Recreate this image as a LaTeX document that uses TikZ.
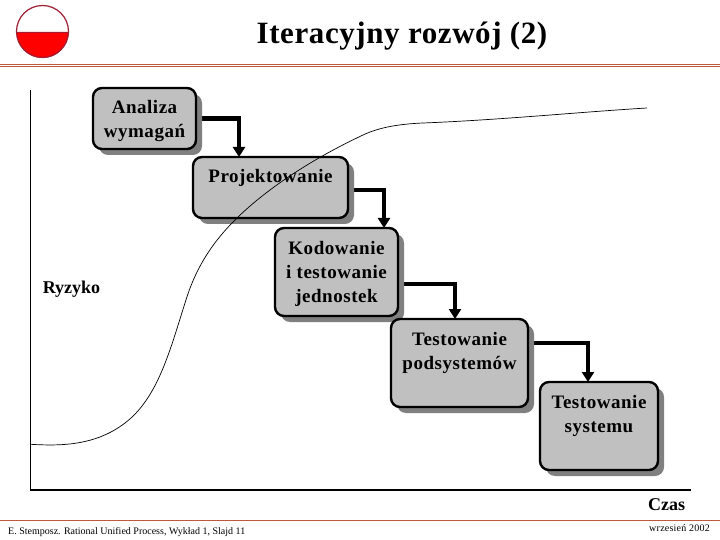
\documentclass[tikz,border=0pt]{standalone}
\usepackage{fontspec}
\setmainfont{Liberation Serif}
\usetikzlibrary{shadows,arrows.meta,backgrounds}
\definecolor{boxgray}{RGB}{192,192,192}
\definecolor{shadowgray}{RGB}{128,128,128}
\definecolor{rulecolor}{RGB}{190,90,60}
\definecolor{logored}{RGB}{255,0,0}
\definecolor{logoedge}{RGB}{160,30,50}
\newcommand{\boxfont}{\fontsize{19}{24}\selectfont\bfseries\addfontfeatures{LetterSpace=2.8}}
% width, height, text
\newcommand{\boxtext}[3]{\parbox[c][#2pt][t]{#1pt}{\centering\boxfont\rule{0pt}{26pt}#3}}
\tikzset{
  stage/.style={draw=black,line width=2.4pt,fill=boxgray,rounded corners=9pt,inner sep=0pt,outer sep=0pt,
    drop shadow={shadow xshift=6pt,shadow yshift=-6pt,fill=shadowgray,opacity=1}},
  flow/.style={draw=black,line width=4.4pt,-{Triangle[width=12pt,length=10pt]}},
  axisline/.style={draw=black,line width=1.2pt},
  headrule/.style={draw=rulecolor,line width=1pt},
  caption/.style={inner sep=0pt,anchor=center},
}
\begin{document}
\begin{tikzpicture}[x=1pt,y=-1pt]
\path[use as bounding box] (0,0) rectangle (720,540);
% logo
\path[fill=white] (42.5,31.5) circle (26);
\path[fill=logored] (16.5,32) arc[start angle=180,end angle=360,x radius=26,y radius=-26] -- cycle;
\draw[logoedge,line width=1.2pt] (42.5,31.5) circle (26);
\draw[logoedge,line width=.8pt] (16.5,32) -- (68.5,32);
% title
\node[caption] (title) at (402,36) {\fontsize{31}{34}\selectfont\bfseries\addfontfeatures{LetterSpace=1.9}Iteracyjny rozwój (2)};
% rules
\draw[headrule] (0,64.6) -- (720,64.6);
\draw[headrule] (0,66.6) -- (720,66.6);
\draw[headrule] (0,520.5) -- (720,520.5);
% axes
\coordinate (axtop) at (30.5,90);
\coordinate (axorigin) at (30.5,490);
\coordinate (axright) at (691,490);
\draw[axisline] (axtop) -- (axorigin) -- (axright);
% boxes
\node[stage] (a) at (144.5,118.5) {\boxtext{103}{61}{Analiza\\wymagań}};
\node[stage] (b) at (270.5,187.5) {\boxtext{155}{61}{Projektowanie}};
\node[stage] (c) at (336.5,272) {\boxtext{123}{88}{Kodowanie\\i testowanie\\jednostek}};
\node[stage] (d) at (459.5,363) {\boxtext{137}{88}{Testowanie\\podsystemów}};
\node[stage] (e) at (599,426) {\boxtext{118}{88}{Testowanie\\systemu}};
% connectors (behind the shadows)
\begin{scope}[on background layer]
\draw[flow] (a.east) -| ([xshift=-31.5pt]b.north);
\draw[flow] ([yshift=-2.5pt]b.east) -| ([xshift=47.5pt]c.north);
\draw[flow] ([yshift=-12pt]c.east) -| ([xshift=-4.5pt]d.north);
\draw[flow] ([yshift=20pt]d.east) -| ([xshift=-11pt]e.north);
\end{scope}
% risk curve
\draw[black,line width=.7pt] (30.5,444.3) .. controls (60,446) and (95,446) .. (125,423)
  .. controls (158,398) and (170,350) .. (185,303)
  .. controls (195,270) and (210,245) .. (235,220)
  .. controls (265,190) and (310,160) .. (363,135)
  .. controls (380,127) and (400,124) .. (423,123)
  .. controls (500,120) and (580,112) .. (647,108);
% labels
\node[caption] (ryzyko) at (71.5,289) {\fontsize{18}{20}\selectfont\bfseries Ryzyko};
\node[caption] (czas) at (666.5,504.5) {\fontsize{18}{20}\selectfont\bfseries Czas};
\node[caption,anchor=base west] (foot) at (8,534) {\fontsize{10}{11}\selectfont E. Stemposz. Rational Unified Process, Wykład 1, Slajd 11};
\node[caption,anchor=base east] (date) at (710,531) {\fontsize{10}{11}\selectfont\addfontfeatures{LetterSpace=2.3}wrzesień 2002};
\end{tikzpicture}
\end{document}
